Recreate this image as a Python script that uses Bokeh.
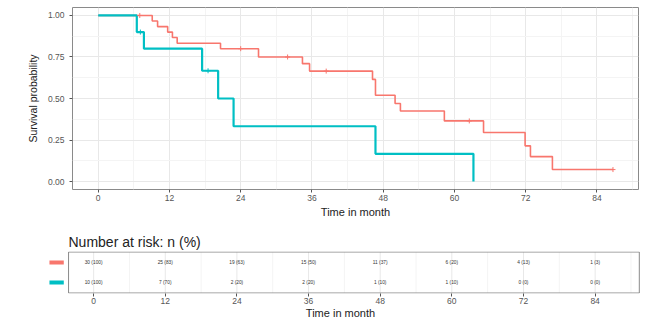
from bokeh.plotting import figure
from bokeh.models import Range1d, FixedTicker, ColumnDataSource, NumeralTickFormatter
from bokeh.core.properties import value
from bokeh.embed import file_html
from bokeh.resources import INLINE

# ---- data ----
red_time = [0, 9.1, 10.0, 11.7, 12.5, 13.3, 20.6, 27.0, 34.4, 35.6, 46.2, 46.7, 50.0, 50.9, 58.3, 64.9, 71.9, 72.8, 76.5, 86.7]
red_surv = [1.0, 0.967, 0.933, 0.90, 0.867, 0.833, 0.80, 0.75, 0.71, 0.665, 0.615, 0.52, 0.47, 0.425, 0.365, 0.295, 0.215, 0.15, 0.072, 0.072]
red_cens_time = [7.0, 24.0, 31.9, 38.4, 62.5, 86.7]
red_cens_surv = [1.0, 0.80, 0.75, 0.665, 0.365, 0.072]

teal_time = [0, 6.5, 7.7, 17.5, 20.2, 22.8, 46.7, 63.2]
teal_surv = [1.0, 0.9, 0.8, 0.667, 0.5, 0.333, 0.167, 0.0]
teal_cens_time = [7.1, 18.5]
teal_cens_surv = [0.9, 0.667]

risk_times = [0, 12, 24, 36, 48, 60, 72, 84]
red_risk_n = [30, 25, 19, 15, 11, 6, 4, 1]
red_risk_pct = [100, 83, 63, 50, 37, 20, 13, 3]
teal_risk_n = [10, 7, 2, 2, 1, 1, 0, 0]
teal_risk_pct = [100, 70, 20, 20, 10, 10, 0, 0]
strata_rows = [2, 1]

x_ticks = [0, 12, 24, 36, 48, 60, 72, 84]
x_minor = [-6, 6, 18, 30, 42, 54, 66, 78, 90]
y_ticks = [0, 0.25, 0.5, 0.75, 1.0]
y_minor = [0.125, 0.375, 0.625, 0.875]

RED = "#F8766D"
TEAL = "#00BFC4"
FONT = "Liberation Sans"
GRID = "#e8e8e8"
MINOR = "#f4f4f4"
BORDER = "#8a8a8a"
TICKLAB = "#555555"

def style_axes(fig):
    for ax in fig.axis:
        ax.axis_line_color = None
        ax.major_tick_line_color = "#555555"
        ax.major_tick_out = 3
        ax.major_tick_in = 0
        ax.minor_tick_line_color = None
        ax.major_label_text_font = FONT
        ax.major_label_text_color = TICKLAB
        ax.major_label_text_font_size = "8.5px"
        ax.axis_label_text_font = FONT
        ax.axis_label_text_font_style = "normal"
        ax.axis_label_text_color = "#222222"
        ax.axis_label_text_font_size = "11px"

# ---- survival plot ----
p = figure(width=639, height=220, x_range=Range1d(-4.33, 91.0), y_range=Range1d(-0.048, 1.048),
           output_backend="svg", toolbar_location=None,
           min_border_left=72, min_border_right=1, min_border_top=7, min_border_bottom=30)
p.outline_line_color = BORDER
p.xaxis.ticker = FixedTicker(ticks=x_ticks, minor_ticks=x_minor)
p.yaxis.ticker = FixedTicker(ticks=y_ticks, minor_ticks=y_minor)
p.yaxis.formatter = NumeralTickFormatter(format="0.00")
p.xaxis.axis_label = "Time in month"
p.yaxis.axis_label = "Survival probability"
style_axes(p)
p.yaxis.axis_label_text_font_size = "10.5px"
p.xaxis.major_label_standoff = 1
p.xaxis.axis_label_standoff = 2
p.yaxis.major_label_standoff = 4
p.yaxis.axis_label_standoff = 6
for g in (p.xgrid, p.ygrid):
    g.grid_line_color = GRID
    g.minor_grid_line_color = MINOR

p.step(red_time, red_surv, mode="after", line_color=RED, line_width=1.6)
p.step(teal_time, teal_surv, mode="after", line_color=TEAL, line_width=2.2)
p.scatter(red_cens_time, red_cens_surv, marker="cross", size=5, line_color=RED, line_width=1)
p.scatter(teal_cens_time, teal_cens_surv, marker="cross", size=5, line_color=TEAL, line_width=1)

# ---- risk table ----
tx0, tx1 = -4.2, 91.4   # table box extent (data)
ty0, ty1 = 0.475, 2.525
t = figure(width=640, height=101, x_range=Range1d(-8.9, 91.6), y_range=Range1d(0.45, 2.55),
           output_backend="svg", toolbar_location=None,
           min_border_left=40, min_border_right=0, min_border_top=31, min_border_bottom=28)
t.outline_line_color = None
t.title.text = "Number at risk: n (%)"
t.title.text_font = FONT
t.title.text_font_size = "14px"
t.title.text_font_style = "normal"
t.title.text_color = "#222222"
t.title.standoff = 4
t.title.offset = 28
t.xaxis.ticker = FixedTicker(ticks=x_ticks)
t.yaxis.visible = False
t.xaxis.axis_label = "Time in month"
style_axes(t)
t.xaxis.major_label_standoff = 1
t.xaxis.axis_label_standoff = 0
t.xgrid.grid_line_color = None
t.ygrid.grid_line_color = None

# grid lines inside the table box
gx = x_ticks + x_minor
gx = [v for v in gx if tx0 < v < tx1]
t.segment(x0=gx, y0=[ty0] * len(gx), x1=gx, y1=[ty1] * len(gx),
          line_color=[GRID if v in x_ticks else MINOR for v in gx], line_width=1)
t.quad(left=[tx0], right=[tx1], bottom=[ty0], top=[ty1], fill_color=None, line_color=BORDER, line_width=1)

red_lab = [f"{n} ({pc})" for n, pc in zip(red_risk_n, red_risk_pct)]
teal_lab = [f"{n} ({pc})" for n, pc in zip(teal_risk_n, teal_risk_pct)]
src = ColumnDataSource(dict(x=risk_times + risk_times,
                            y=[strata_rows[0]] * len(risk_times) + [strata_rows[1]] * len(risk_times),
                            lab=red_lab + teal_lab))
t.text(x="x", y="y", text="lab", source=src, text_font=value(FONT), text_font_size="4.8px",
       text_align="center", text_baseline="middle", text_color="#333333")

# strata colour keys left of the table
t.segment(x0=[-7.4, -7.4], y0=strata_rows, x1=[-5.0, -5.0], y1=strata_rows,
          line_color=[RED, TEAL], line_width=4)

open("out.html", "w").write(file_html([p, t], INLINE))
